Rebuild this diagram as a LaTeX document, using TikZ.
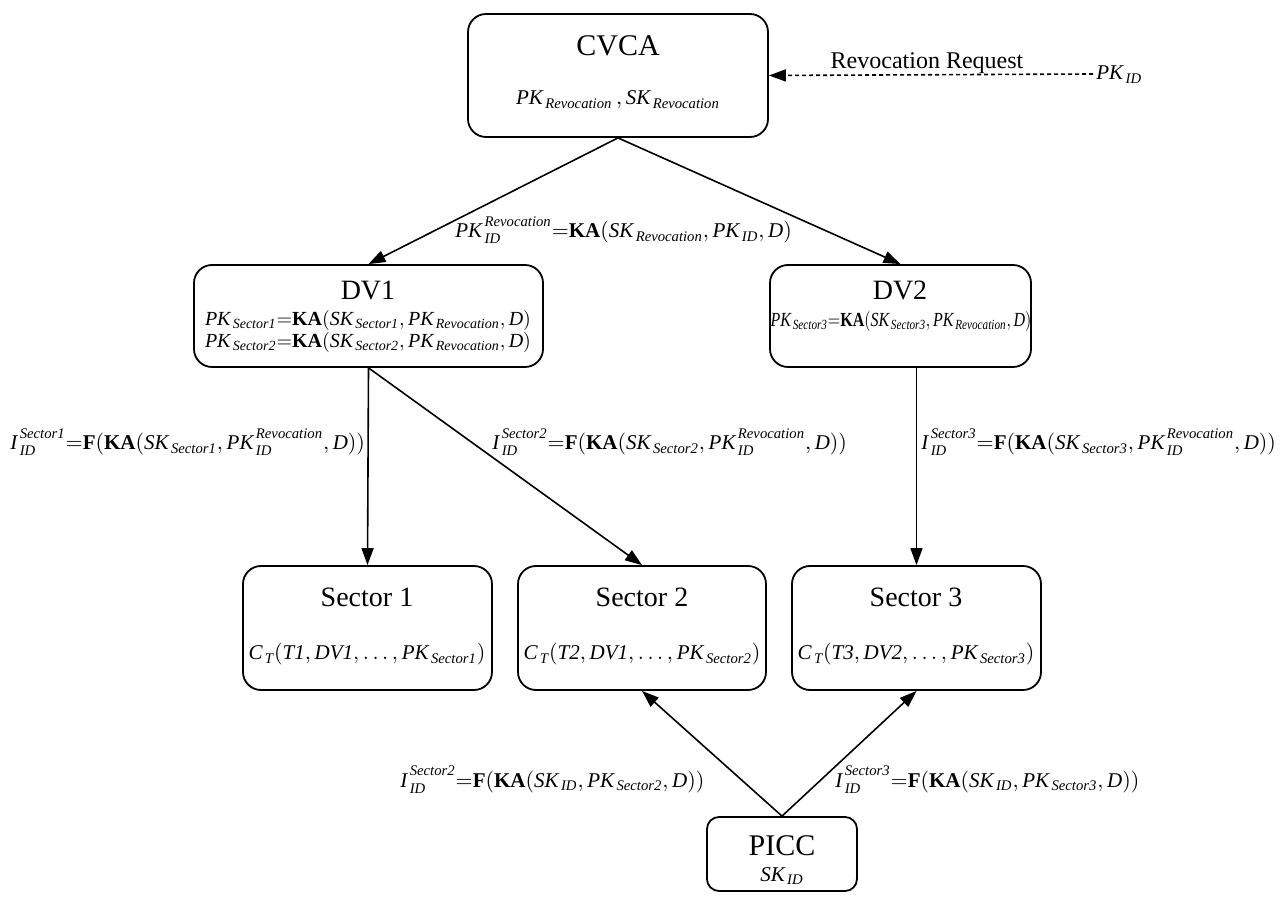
\documentclass[tikz,border=0pt]{standalone}
\usepackage{amsmath}
\usepackage{fontspec}
\setmainfont{Liberation Serif}
\usetikzlibrary{arrows.meta}
% italic identifiers, bold operators, and a small gap before scripts
\newcommand{\iv}[1]{\textit{#1}}
\newcommand{\kb}[1]{\textbf{#1}}
\newcommand{\gp}{\mskip2mu}
% identifier with both a superscript and a subscript, spread apart by a strut
\newcommand{\twoidx}[3]{{\iv{#1}\gp\rule[-2.5pt]{0pt}{10.5pt}}^{\iv{#2}}_{\iv{#3}}}
\begin{document}
\begin{tikzpicture}[x=0.5pt,y=-0.5pt,
  box/.style={draw,line width=0.9pt,rounded corners=9pt,inner sep=0pt},
  ttl/.style={anchor=base,inner sep=0pt,font=\fontsize{14}{16}\selectfont},
  eq/.style={anchor=base,inner sep=0pt,font=\fontsize{10.5}{12}\selectfont},
  arr/.style={line width=0.8pt,-{Triangle[length=8.5pt,width=6pt]}}]
\useasboundingbox (0,0) rectangle (1280,908);

% boxes
\node[box,minimum width=150pt,minimum height=61.5pt] (cvca) at (618,75.5) {};
\node[box,minimum width=174.5pt,minimum height=51pt] (dv1) at (368.5,316) {};
\node[box,minimum width=130.5pt,minimum height=51pt] (dv2) at (900.5,316) {};
\node[box,minimum width=124.5pt,minimum height=62pt] (sec1) at (367.5,628) {};
\node[box,minimum width=124pt,minimum height=62pt] (sec2) at (642,628) {};
\node[box,minimum width=124.5pt,minimum height=62pt] (sec3) at (916.5,628) {};
\node[box,rounded corners=6pt,minimum width=75pt,minimum height=37pt] (picc) at (782,854) {};

% box contents
\node[ttl,font=\fontsize{15}{17}\selectfont] (cvcat) at (618,56) {CVCA};
\node[eq] (cvcak) at (618,105) {$\iv{PK}\gp_{\iv{Revocation}}\,,\iv{SK}\gp_{\iv{Revocation}}$};
\node[ttl] (dv1t) at (368,300) {DV1};
\node[eq,font=\fontsize{10}{12}\selectfont] (dv1a) at (368,326) {$\iv{PK}\gp_{\iv{Sector1}}{=}\kb{KA}(\iv{SK}\gp_{\iv{Sector1}},\iv{PK}\gp_{\iv{Revocation}},\iv{D})$};
\node[eq,font=\fontsize{10}{12}\selectfont] (dv1b) at (368,348) {$\iv{PK}\gp_{\iv{Sector2}}{=}\kb{KA}(\iv{SK}\gp_{\iv{Sector2}},\iv{PK}\gp_{\iv{Revocation}},\iv{D})$};
\node[ttl] (dv2t) at (900,300) {DV2};
\node[eq,font=\fontsize{10}{12}\selectfont] (dv2a) at (901,327) {\scalebox{0.8}[1]{$\iv{PK}\gp_{\iv{Sector3}}{=}\kb{KA}(\iv{SK}\gp_{\iv{Sector3}},\iv{PK}\gp_{\iv{Revocation}},\iv{D})$}};
\node[ttl] (sec1t) at (367,607) {Sector 1};
\node[eq] (sec1a) at (367,660) {$\iv{C}\gp_{\iv{T}}(\iv{T1},\iv{DV1},\ldots,\iv{PK}\gp_{\iv{Sector1}})$};
\node[ttl] (sec2t) at (642,607) {Sector 2};
\node[eq] (sec2a) at (642,660) {$\iv{C}\gp_{\iv{T}}(\iv{T2},\iv{DV1},\ldots,\iv{PK}\gp_{\iv{Sector2}})$};
\node[ttl] (sec3t) at (916,607) {Sector 3};
\node[eq] (sec3a) at (916,660) {$\iv{C}\gp_{\iv{T}}(\iv{T3},\iv{DV2},\ldots,\iv{PK}\gp_{\iv{Sector3}})$};
\node[ttl,font=\fontsize{15}{17}\selectfont] (picct) at (782,855) {PICC};
\node[eq] (picck) at (782,881) {$\iv{SK}\gp_{\iv{ID}}$};

% revocation request
\node[eq,anchor=base west] (pkid) at (1096,80) {$\iv{PK}\gp_{\iv{ID}}$};
\coordinate (rqstart) at (1093,74);
\draw[arr,dash pattern=on 2pt off 1.5pt] (rqstart) -- (cvca.east);
\node[ttl,font=\fontsize{12}{14}\selectfont] (rq) at (927,69) {Revocation Request};

% key derivation arrows
\draw[arr] (cvca.south) -- (dv1.north);
\draw[arr] (cvca.south) -- (dv2.north);
\draw[arr] (dv1.south) -- (sec1.north);
\draw[arr] (dv1.south) -- (sec2.north);
\draw[arr] (dv2.south -| sec3.north) -- (sec3.north);
\draw[arr] (picc.north) -- (sec2.south);
\draw[arr] (picc.north) -- (sec3.south);

% arrow labels
\node[eq,anchor=base west] (lrev) at (455,238) {$\twoidx{PK}{Revocation}{ID}{=}\kb{KA}(\iv{SK}\gp_{\iv{Revocation}},\iv{PK}\gp_{\iv{ID}},\iv{D})$};
\node[eq,anchor=base west] (ls1) at (10,450) {$\twoidx{I}{Sector1}{ID}{=}\kb{F}(\kb{KA}(\iv{SK}\gp_{\iv{Sector1}},\twoidx{PK}{Revocation}{ID},\iv{D}))$};
\node[eq,anchor=base west] (ls2) at (492,450) {$\twoidx{I}{Sector2}{ID}{=}\kb{F}(\kb{KA}(\iv{SK}\gp_{\iv{Sector2}},\twoidx{PK}{Revocation}{ID},\iv{D}))$};
\node[eq,anchor=base west] (ls3) at (921,450) {$\twoidx{I}{Sector3}{ID}{=}\kb{F}(\kb{KA}(\iv{SK}\gp_{\iv{Sector3}},\twoidx{PK}{Revocation}{ID},\iv{D}))$};
\node[eq,anchor=base west] (lp2) at (400,787) {$\twoidx{I}{Sector2}{ID}{=}\kb{F}(\kb{KA}(\iv{SK}\gp_{\iv{ID}},\iv{PK}\gp_{\iv{Sector2}},\iv{D}))$};
\node[eq,anchor=base west] (lp3) at (835,787) {$\twoidx{I}{Sector3}{ID}{=}\kb{F}(\kb{KA}(\iv{SK}\gp_{\iv{ID}},\iv{PK}\gp_{\iv{Sector3}},\iv{D}))$};
\end{tikzpicture}
\end{document}
